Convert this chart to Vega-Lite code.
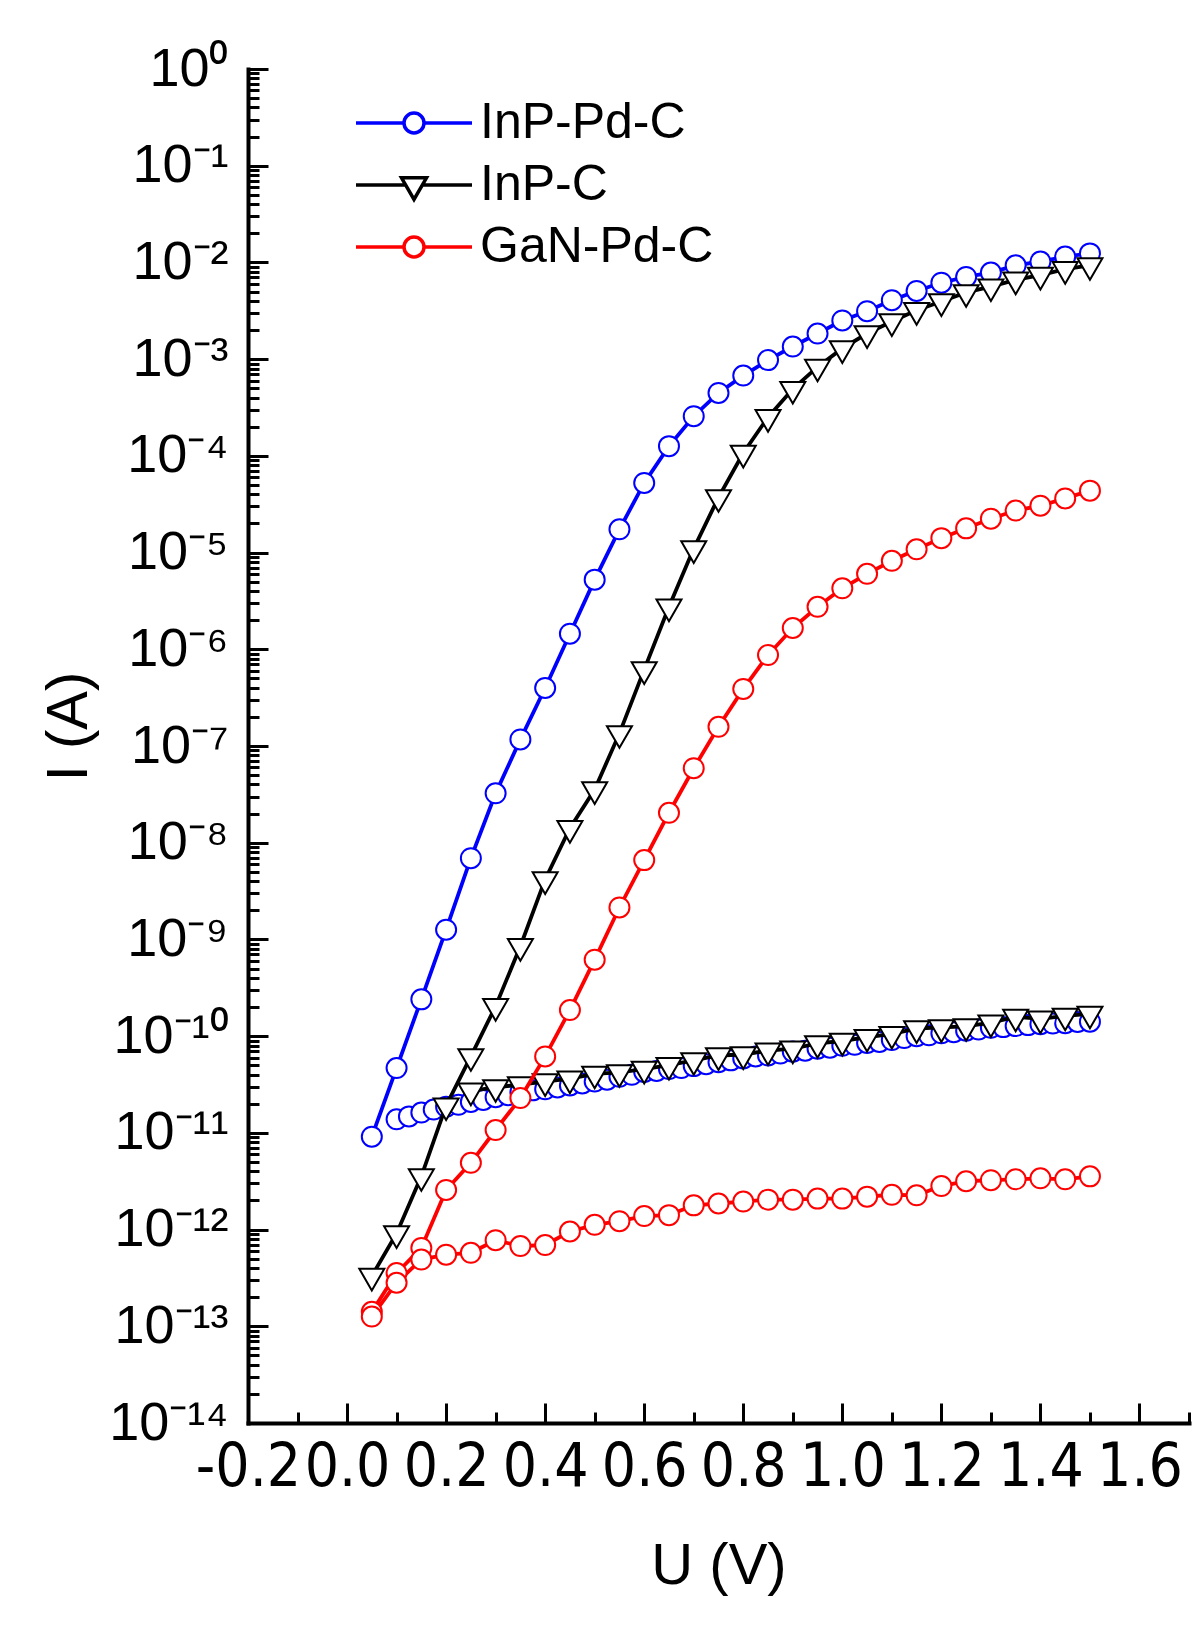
{
  "$schema": "https://vega.github.io/schema/vega-lite/v6.json",
  "width": 941,
  "height": 1354,
  "autosize": {"type": "none"},
  "padding": {"left": 248, "top": 69, "right": 11, "bottom": 203},
  "background": "white",
  "config": {"view": {"stroke": null}, "font": "Liberation Sans"},
  "data": {"values": [
    {"U":0.05,"I":9.12e-12,"sample":"InP-Pd-C","branch":"up"},
    {"U":0.10,"I":4.68e-11,"sample":"InP-Pd-C","branch":"up"},
    {"U":0.15,"I":2.40e-10,"sample":"InP-Pd-C","branch":"up"},
    {"U":0.20,"I":1.26e-9,"sample":"InP-Pd-C","branch":"up"},
    {"U":0.25,"I":6.92e-9,"sample":"InP-Pd-C","branch":"up"},
    {"U":0.30,"I":3.24e-8,"sample":"InP-Pd-C","branch":"up"},
    {"U":0.35,"I":1.17e-7,"sample":"InP-Pd-C","branch":"up"},
    {"U":0.40,"I":3.98e-7,"sample":"InP-Pd-C","branch":"up"},
    {"U":0.45,"I":1.45e-6,"sample":"InP-Pd-C","branch":"up"},
    {"U":0.50,"I":5.25e-6,"sample":"InP-Pd-C","branch":"up"},
    {"U":0.55,"I":1.74e-5,"sample":"InP-Pd-C","branch":"up"},
    {"U":0.60,"I":5.25e-5,"sample":"InP-Pd-C","branch":"up"},
    {"U":0.65,"I":1.26e-4,"sample":"InP-Pd-C","branch":"up"},
    {"U":0.70,"I":2.57e-4,"sample":"InP-Pd-C","branch":"up"},
    {"U":0.75,"I":4.47e-4,"sample":"InP-Pd-C","branch":"up"},
    {"U":0.80,"I":6.76e-4,"sample":"InP-Pd-C","branch":"up"},
    {"U":0.85,"I":9.77e-4,"sample":"InP-Pd-C","branch":"up"},
    {"U":0.90,"I":1.35e-3,"sample":"InP-Pd-C","branch":"up"},
    {"U":0.95,"I":1.84e-3,"sample":"InP-Pd-C","branch":"up"},
    {"U":1.00,"I":2.51e-3,"sample":"InP-Pd-C","branch":"up"},
    {"U":1.05,"I":3.13e-3,"sample":"InP-Pd-C","branch":"up"},
    {"U":1.10,"I":4.07e-3,"sample":"InP-Pd-C","branch":"up"},
    {"U":1.15,"I":5.07e-3,"sample":"InP-Pd-C","branch":"up"},
    {"U":1.20,"I":6.17e-3,"sample":"InP-Pd-C","branch":"up"},
    {"U":1.25,"I":7.08e-3,"sample":"InP-Pd-C","branch":"up"},
    {"U":1.30,"I":7.85e-3,"sample":"InP-Pd-C","branch":"up"},
    {"U":1.35,"I":9.33e-3,"sample":"InP-Pd-C","branch":"up"},
    {"U":1.40,"I":1.02e-2,"sample":"InP-Pd-C","branch":"up"},
    {"U":1.45,"I":1.15e-2,"sample":"InP-Pd-C","branch":"up"},
    {"U":1.50,"I":1.24e-2,"sample":"InP-Pd-C","branch":"up"},
    {"U":0.100,"I":1.38e-11,"sample":"InP-Pd-C","branch":"low"},
    {"U":0.125,"I":1.48e-11,"sample":"InP-Pd-C","branch":"low"},
    {"U":0.150,"I":1.62e-11,"sample":"InP-Pd-C","branch":"low"},
    {"U":0.175,"I":1.74e-11,"sample":"InP-Pd-C","branch":"low"},
    {"U":0.200,"I":1.86e-11,"sample":"InP-Pd-C","branch":"low"},
    {"U":0.225,"I":1.95e-11,"sample":"InP-Pd-C","branch":"low"},
    {"U":0.250,"I":2.09e-11,"sample":"InP-Pd-C","branch":"low"},
    {"U":0.275,"I":2.19e-11,"sample":"InP-Pd-C","branch":"low"},
    {"U":0.300,"I":2.34e-11,"sample":"InP-Pd-C","branch":"low"},
    {"U":0.325,"I":2.45e-11,"sample":"InP-Pd-C","branch":"low"},
    {"U":0.350,"I":2.63e-11,"sample":"InP-Pd-C","branch":"low"},
    {"U":0.375,"I":2.75e-11,"sample":"InP-Pd-C","branch":"low"},
    {"U":0.400,"I":2.82e-11,"sample":"InP-Pd-C","branch":"low"},
    {"U":0.425,"I":2.95e-11,"sample":"InP-Pd-C","branch":"low"},
    {"U":0.450,"I":3.09e-11,"sample":"InP-Pd-C","branch":"low"},
    {"U":0.475,"I":3.24e-11,"sample":"InP-Pd-C","branch":"low"},
    {"U":0.500,"I":3.39e-11,"sample":"InP-Pd-C","branch":"low"},
    {"U":0.525,"I":3.55e-11,"sample":"InP-Pd-C","branch":"low"},
    {"U":0.550,"I":3.80e-11,"sample":"InP-Pd-C","branch":"low"},
    {"U":0.575,"I":3.98e-11,"sample":"InP-Pd-C","branch":"low"},
    {"U":0.600,"I":4.27e-11,"sample":"InP-Pd-C","branch":"low"},
    {"U":0.625,"I":4.37e-11,"sample":"InP-Pd-C","branch":"low"},
    {"U":0.650,"I":4.57e-11,"sample":"InP-Pd-C","branch":"low"},
    {"U":0.675,"I":4.68e-11,"sample":"InP-Pd-C","branch":"low"},
    {"U":0.700,"I":4.90e-11,"sample":"InP-Pd-C","branch":"low"},
    {"U":0.725,"I":5.13e-11,"sample":"InP-Pd-C","branch":"low"},
    {"U":0.750,"I":5.37e-11,"sample":"InP-Pd-C","branch":"low"},
    {"U":0.775,"I":5.62e-11,"sample":"InP-Pd-C","branch":"low"},
    {"U":0.800,"I":5.89e-11,"sample":"InP-Pd-C","branch":"low"},
    {"U":0.825,"I":6.17e-11,"sample":"InP-Pd-C","branch":"low"},
    {"U":0.850,"I":6.31e-11,"sample":"InP-Pd-C","branch":"low"},
    {"U":0.875,"I":6.61e-11,"sample":"InP-Pd-C","branch":"low"},
    {"U":0.900,"I":6.92e-11,"sample":"InP-Pd-C","branch":"low"},
    {"U":0.925,"I":7.08e-11,"sample":"InP-Pd-C","branch":"low"},
    {"U":0.950,"I":7.41e-11,"sample":"InP-Pd-C","branch":"low"},
    {"U":0.975,"I":7.59e-11,"sample":"InP-Pd-C","branch":"low"},
    {"U":1.000,"I":7.94e-11,"sample":"InP-Pd-C","branch":"low"},
    {"U":1.025,"I":8.13e-11,"sample":"InP-Pd-C","branch":"low"},
    {"U":1.050,"I":8.51e-11,"sample":"InP-Pd-C","branch":"low"},
    {"U":1.075,"I":8.71e-11,"sample":"InP-Pd-C","branch":"low"},
    {"U":1.100,"I":9.12e-11,"sample":"InP-Pd-C","branch":"low"},
    {"U":1.125,"I":9.55e-11,"sample":"InP-Pd-C","branch":"low"},
    {"U":1.150,"I":1.00e-10,"sample":"InP-Pd-C","branch":"low"},
    {"U":1.175,"I":1.02e-10,"sample":"InP-Pd-C","branch":"low"},
    {"U":1.200,"I":1.07e-10,"sample":"InP-Pd-C","branch":"low"},
    {"U":1.225,"I":1.10e-10,"sample":"InP-Pd-C","branch":"low"},
    {"U":1.250,"I":1.14e-10,"sample":"InP-Pd-C","branch":"low"},
    {"U":1.275,"I":1.17e-10,"sample":"InP-Pd-C","branch":"low"},
    {"U":1.300,"I":1.22e-10,"sample":"InP-Pd-C","branch":"low"},
    {"U":1.325,"I":1.24e-10,"sample":"InP-Pd-C","branch":"low"},
    {"U":1.350,"I":1.27e-10,"sample":"InP-Pd-C","branch":"low"},
    {"U":1.375,"I":1.30e-10,"sample":"InP-Pd-C","branch":"low"},
    {"U":1.400,"I":1.33e-10,"sample":"InP-Pd-C","branch":"low"},
    {"U":1.425,"I":1.35e-10,"sample":"InP-Pd-C","branch":"low"},
    {"U":1.450,"I":1.36e-10,"sample":"InP-Pd-C","branch":"low"},
    {"U":1.475,"I":1.40e-10,"sample":"InP-Pd-C","branch":"low"},
    {"U":1.500,"I":1.41e-10,"sample":"InP-Pd-C","branch":"low"},
    {"U":0.05,"I":3.31e-13,"sample":"InP-C","branch":"up"},
    {"U":0.10,"I":9.12e-13,"sample":"InP-C","branch":"up"},
    {"U":0.15,"I":3.55e-12,"sample":"InP-C","branch":"up"},
    {"U":0.20,"I":1.91e-11,"sample":"InP-C","branch":"up"},
    {"U":0.25,"I":6.17e-11,"sample":"InP-C","branch":"up"},
    {"U":0.30,"I":2.04e-10,"sample":"InP-C","branch":"up"},
    {"U":0.35,"I":8.51e-10,"sample":"InP-C","branch":"up"},
    {"U":0.40,"I":4.17e-9,"sample":"InP-C","branch":"up"},
    {"U":0.45,"I":1.41e-8,"sample":"InP-C","branch":"up"},
    {"U":0.50,"I":3.55e-8,"sample":"InP-C","branch":"up"},
    {"U":0.55,"I":1.35e-7,"sample":"InP-C","branch":"up"},
    {"U":0.60,"I":6.17e-7,"sample":"InP-C","branch":"up"},
    {"U":0.65,"I":2.75e-6,"sample":"InP-C","branch":"up"},
    {"U":0.70,"I":1.10e-5,"sample":"InP-C","branch":"up"},
    {"U":0.75,"I":3.72e-5,"sample":"InP-C","branch":"up"},
    {"U":0.80,"I":1.07e-4,"sample":"InP-C","branch":"up"},
    {"U":0.85,"I":2.51e-4,"sample":"InP-C","branch":"up"},
    {"U":0.90,"I":4.90e-4,"sample":"InP-C","branch":"up"},
    {"U":0.95,"I":8.32e-4,"sample":"InP-C","branch":"up"},
    {"U":1.00,"I":1.29e-3,"sample":"InP-C","branch":"up"},
    {"U":1.05,"I":1.84e-3,"sample":"InP-C","branch":"up"},
    {"U":1.10,"I":2.45e-3,"sample":"InP-C","branch":"up"},
    {"U":1.15,"I":3.20e-3,"sample":"InP-C","branch":"up"},
    {"U":1.20,"I":3.94e-3,"sample":"InP-C","branch":"up"},
    {"U":1.25,"I":4.90e-3,"sample":"InP-C","branch":"up"},
    {"U":1.30,"I":5.62e-3,"sample":"InP-C","branch":"up"},
    {"U":1.35,"I":6.61e-3,"sample":"InP-C","branch":"up"},
    {"U":1.40,"I":7.41e-3,"sample":"InP-C","branch":"up"},
    {"U":1.45,"I":8.51e-3,"sample":"InP-C","branch":"up"},
    {"U":1.50,"I":9.33e-3,"sample":"InP-C","branch":"up"},
    {"U":0.25,"I":2.72e-11,"sample":"InP-C","branch":"low"},
    {"U":0.30,"I":2.95e-11,"sample":"InP-C","branch":"low"},
    {"U":0.35,"I":3.16e-11,"sample":"InP-C","branch":"low"},
    {"U":0.40,"I":3.39e-11,"sample":"InP-C","branch":"low"},
    {"U":0.45,"I":3.63e-11,"sample":"InP-C","branch":"low"},
    {"U":0.50,"I":4.07e-11,"sample":"InP-C","branch":"low"},
    {"U":0.55,"I":4.22e-11,"sample":"InP-C","branch":"low"},
    {"U":0.60,"I":4.57e-11,"sample":"InP-C","branch":"low"},
    {"U":0.65,"I":5.01e-11,"sample":"InP-C","branch":"low"},
    {"U":0.70,"I":5.62e-11,"sample":"InP-C","branch":"low"},
    {"U":0.75,"I":6.31e-11,"sample":"InP-C","branch":"low"},
    {"U":0.80,"I":6.46e-11,"sample":"InP-C","branch":"low"},
    {"U":0.85,"I":7.08e-11,"sample":"InP-C","branch":"low"},
    {"U":0.90,"I":7.41e-11,"sample":"InP-C","branch":"low"},
    {"U":0.95,"I":8.41e-11,"sample":"InP-C","branch":"low"},
    {"U":1.00,"I":8.91e-11,"sample":"InP-C","branch":"low"},
    {"U":1.05,"I":9.77e-11,"sample":"InP-C","branch":"low"},
    {"U":1.10,"I":1.05e-10,"sample":"InP-C","branch":"low"},
    {"U":1.15,"I":1.20e-10,"sample":"InP-C","branch":"low"},
    {"U":1.20,"I":1.23e-10,"sample":"InP-C","branch":"low"},
    {"U":1.25,"I":1.26e-10,"sample":"InP-C","branch":"low"},
    {"U":1.30,"I":1.38e-10,"sample":"InP-C","branch":"low"},
    {"U":1.35,"I":1.58e-10,"sample":"InP-C","branch":"low"},
    {"U":1.40,"I":1.51e-10,"sample":"InP-C","branch":"low"},
    {"U":1.45,"I":1.62e-10,"sample":"InP-C","branch":"low"},
    {"U":1.50,"I":1.70e-10,"sample":"InP-C","branch":"low"},
    {"U":0.05,"I":1.41e-13,"sample":"GaN-Pd-C","branch":"up"},
    {"U":0.10,"I":3.55e-13,"sample":"GaN-Pd-C","branch":"up"},
    {"U":0.15,"I":6.46e-13,"sample":"GaN-Pd-C","branch":"up"},
    {"U":0.20,"I":2.57e-12,"sample":"GaN-Pd-C","branch":"up"},
    {"U":0.25,"I":4.90e-12,"sample":"GaN-Pd-C","branch":"up"},
    {"U":0.30,"I":1.07e-11,"sample":"GaN-Pd-C","branch":"up"},
    {"U":0.35,"I":2.29e-11,"sample":"GaN-Pd-C","branch":"up"},
    {"U":0.40,"I":6.17e-11,"sample":"GaN-Pd-C","branch":"up"},
    {"U":0.45,"I":1.86e-10,"sample":"GaN-Pd-C","branch":"up"},
    {"U":0.50,"I":6.17e-10,"sample":"GaN-Pd-C","branch":"up"},
    {"U":0.55,"I":2.14e-9,"sample":"GaN-Pd-C","branch":"up"},
    {"U":0.60,"I":6.61e-9,"sample":"GaN-Pd-C","branch":"up"},
    {"U":0.65,"I":2.04e-8,"sample":"GaN-Pd-C","branch":"up"},
    {"U":0.70,"I":5.89e-8,"sample":"GaN-Pd-C","branch":"up"},
    {"U":0.75,"I":1.58e-7,"sample":"GaN-Pd-C","branch":"up"},
    {"U":0.80,"I":3.89e-7,"sample":"GaN-Pd-C","branch":"up"},
    {"U":0.85,"I":8.71e-7,"sample":"GaN-Pd-C","branch":"up"},
    {"U":0.90,"I":1.66e-6,"sample":"GaN-Pd-C","branch":"up"},
    {"U":0.95,"I":2.75e-6,"sample":"GaN-Pd-C","branch":"up"},
    {"U":1.00,"I":4.27e-6,"sample":"GaN-Pd-C","branch":"up"},
    {"U":1.05,"I":6.03e-6,"sample":"GaN-Pd-C","branch":"up"},
    {"U":1.10,"I":8.22e-6,"sample":"GaN-Pd-C","branch":"up"},
    {"U":1.15,"I":1.08e-5,"sample":"GaN-Pd-C","branch":"up"},
    {"U":1.20,"I":1.41e-5,"sample":"GaN-Pd-C","branch":"up"},
    {"U":1.25,"I":1.78e-5,"sample":"GaN-Pd-C","branch":"up"},
    {"U":1.30,"I":2.24e-5,"sample":"GaN-Pd-C","branch":"up"},
    {"U":1.35,"I":2.72e-5,"sample":"GaN-Pd-C","branch":"up"},
    {"U":1.40,"I":3.05e-5,"sample":"GaN-Pd-C","branch":"up"},
    {"U":1.45,"I":3.63e-5,"sample":"GaN-Pd-C","branch":"up"},
    {"U":1.50,"I":4.37e-5,"sample":"GaN-Pd-C","branch":"up"},
    {"U":0.05,"I":1.26e-13,"sample":"GaN-Pd-C","branch":"low"},
    {"U":0.10,"I":2.82e-13,"sample":"GaN-Pd-C","branch":"low"},
    {"U":0.15,"I":4.90e-13,"sample":"GaN-Pd-C","branch":"low"},
    {"U":0.20,"I":5.50e-13,"sample":"GaN-Pd-C","branch":"low"},
    {"U":0.25,"I":5.75e-13,"sample":"GaN-Pd-C","branch":"low"},
    {"U":0.30,"I":7.76e-13,"sample":"GaN-Pd-C","branch":"low"},
    {"U":0.35,"I":6.76e-13,"sample":"GaN-Pd-C","branch":"low"},
    {"U":0.40,"I":6.92e-13,"sample":"GaN-Pd-C","branch":"low"},
    {"U":0.45,"I":9.55e-13,"sample":"GaN-Pd-C","branch":"low"},
    {"U":0.50,"I":1.12e-12,"sample":"GaN-Pd-C","branch":"low"},
    {"U":0.55,"I":1.22e-12,"sample":"GaN-Pd-C","branch":"low"},
    {"U":0.60,"I":1.38e-12,"sample":"GaN-Pd-C","branch":"low"},
    {"U":0.65,"I":1.41e-12,"sample":"GaN-Pd-C","branch":"low"},
    {"U":0.70,"I":1.78e-12,"sample":"GaN-Pd-C","branch":"low"},
    {"U":0.75,"I":1.86e-12,"sample":"GaN-Pd-C","branch":"low"},
    {"U":0.80,"I":1.95e-12,"sample":"GaN-Pd-C","branch":"low"},
    {"U":0.85,"I":2.04e-12,"sample":"GaN-Pd-C","branch":"low"},
    {"U":0.90,"I":2.04e-12,"sample":"GaN-Pd-C","branch":"low"},
    {"U":0.95,"I":2.09e-12,"sample":"GaN-Pd-C","branch":"low"},
    {"U":1.00,"I":2.09e-12,"sample":"GaN-Pd-C","branch":"low"},
    {"U":1.05,"I":2.19e-12,"sample":"GaN-Pd-C","branch":"low"},
    {"U":1.10,"I":2.29e-12,"sample":"GaN-Pd-C","branch":"low"},
    {"U":1.15,"I":2.26e-12,"sample":"GaN-Pd-C","branch":"low"},
    {"U":1.20,"I":2.82e-12,"sample":"GaN-Pd-C","branch":"low"},
    {"U":1.25,"I":3.16e-12,"sample":"GaN-Pd-C","branch":"low"},
    {"U":1.30,"I":3.24e-12,"sample":"GaN-Pd-C","branch":"low"},
    {"U":1.35,"I":3.31e-12,"sample":"GaN-Pd-C","branch":"low"},
    {"U":1.40,"I":3.39e-12,"sample":"GaN-Pd-C","branch":"low"},
    {"U":1.45,"I":3.31e-12,"sample":"GaN-Pd-C","branch":"low"},
    {"U":1.50,"I":3.55e-12,"sample":"GaN-Pd-C","branch":"low"}
  ]},
  "resolve": {"axis": {"x": "independent", "y": "independent"}},
  "layer": [
    {
      "transform": [{"filter": "datum.sample === 'InP-Pd-C'"}],
      "mark": {"type": "line", "strokeWidth": 3.8},
      "encoding": {
        "x": {"field": "U", "type": "quantitative",
          "scale": {"domain": [-0.2, 1.7], "nice": false, "zero": false},
          "axis": {"orient": "bottom", "values": [-0.2, 0, 0.2, 0.4, 0.6, 0.8, 1.0, 1.2, 1.4, 1.6],
            "labelExpr": "replace(format(datum.value, '.1f'), '\u2212', '-')",
            "grid": false, "domainColor": "black", "domainWidth": 4, "domainCap": "square",
            "tickColor": "black", "tickWidth": 3, "tickSize": -20,
            "labelFont": "Liberation Sans Narrow, DejaVu Sans Condensed, Liberation Sans", "labelFontSize": 60, "labelColor": "black",
            "labelPadding": 35, "labelFlush": false, "labelOverlap": false, "labelBaseline": "top",
            "title": "U (V)", "titleFont": "Liberation Sans", "titleFontSize": 58, "titleFontWeight": "normal", "titleColor": "black", "titlePadding": 40}},
        "y": {"field": "I", "type": "quantitative",
          "scale": {"type": "log", "domain": [1e-14, 1], "nice": false},
          "axis": {"orient": "left", "values": [1e-14, 1e-13, 1e-12, 1e-11, 1e-10, 1e-9, 1e-8, 1e-7, 1e-6, 1e-5, 1e-4, 1e-3, 1e-2, 1e-1, 1],
            "labelExpr": "'10' + ['\u2070','\u207b\u00b9','\u207b\u00b2','\u207b\u00b3','\u207b\u2074','\u207b\u2075','\u207b\u2076','\u207b\u2077','\u207b\u2078','\u207b\u2079','\u207b\u00b9\u2070','\u207b\u00b9\u00b9','\u207b\u00b9\u00b2','\u207b\u00b9\u00b3','\u207b\u00b9\u2074'][-round(log(datum.value) / LN10)]",
            "grid": false, "domainColor": "black", "domainWidth": 4, "domainCap": "square",
            "tickColor": "black", "tickWidth": 3, "tickSize": -20,
            "labelFont": "Liberation Sans", "labelFontSize": 54, "labelColor": "black",
            "labelPadding": 40, "labelFlush": false, "labelOverlap": false,
            "title": "I (A)", "titleFont": "Liberation Sans", "titleFontSize": 58, "titleFontWeight": "normal", "titleColor": "black",
            "titleX": -150, "titleY": 657}},
        "detail": {"field": "branch", "type": "nominal"},
        "color": {"field": "sample", "type": "nominal",
          "scale": {"domain": ["InP-Pd-C", "InP-C", "GaN-Pd-C"], "range": ["#0000ff", "#000000", "#ff0000"]},
          "legend": {"orient": "none", "legendX": 141, "legendY": 29, "title": null,
            "labelFont": "Liberation Sans", "labelFontSize": 50, "labelColor": "black", "labelLimit": 0,
            "labelOffset": 41, "rowPadding": 12, "symbolSize": 1600, "symbolStrokeWidth": 3.5,
            "encode": {"symbols": {"update": {
              "shape": {"signal": "datum.value === 'InP-C' ? 'M-2.9,0L-0.417,0M0.417,0L2.9,0M-0.625,-0.36L0.625,-0.36L0,0.72Z' : 'M-2.9,0L-0.5,0M0.5,0L2.9,0M-0.5,0A0.5,0.5,0,1,1,0.5,0A0.5,0.5,0,1,1,-0.5,0Z'"},
              "fill": {"value": "white"}, "fillOpacity": {"value": 1}, "strokeWidth": {"value": 3.5}}}}}}
      }
    },
    {
      "transform": [{"filter": "datum.sample === 'InP-Pd-C'"}],
      "mark": {"type": "point", "shape": "circle", "size": 400, "filled": true, "fill": "white", "stroke": "#0000ff", "strokeWidth": 2, "opacity": 1},
      "encoding": {
        "x": {"field": "U", "type": "quantitative",
          "scale": {"domain": [-0.2, 1.7], "nice": false, "zero": false},
          "axis": {"orient": "bottom", "values": [-0.1, 0.1, 0.3, 0.5, 0.7, 0.9, 1.1, 1.3, 1.5, 1.7],
            "labels": false, "domain": false, "grid": false, "title": null,
            "tickColor": "black", "tickWidth": 3, "tickSize": -11}},
        "y": {"field": "I", "type": "quantitative",
          "scale": {"type": "log", "domain": [1e-14, 1], "nice": false},
          "axis": {"orient": "left", "values": [2e-14,3e-14,4e-14,5e-14,6e-14,7e-14,8e-14,9e-14,2e-13,3e-13,4e-13,5e-13,6e-13,7e-13,8e-13,9e-13,2e-12,3e-12,4e-12,5e-12,6e-12,7e-12,8e-12,9e-12,2e-11,3e-11,4e-11,5e-11,6e-11,7e-11,8e-11,9e-11,2e-10,3e-10,4e-10,5e-10,6e-10,7e-10,8e-10,9e-10,2e-9,3e-9,4e-9,5e-9,6e-9,7e-9,8e-9,9e-9,2e-8,3e-8,4e-8,5e-8,6e-8,7e-8,8e-8,9e-8,2e-7,3e-7,4e-7,5e-7,6e-7,7e-7,8e-7,9e-7,2e-6,3e-6,4e-6,5e-6,6e-6,7e-6,8e-6,9e-6,2e-5,3e-5,4e-5,5e-5,6e-5,7e-5,8e-5,9e-5,2e-4,3e-4,4e-4,5e-4,6e-4,7e-4,8e-4,9e-4,2e-3,3e-3,4e-3,5e-3,6e-3,7e-3,8e-3,9e-3,2e-2,3e-2,4e-2,5e-2,6e-2,7e-2,8e-2,9e-2,0.2,0.3,0.4,0.5,0.6,0.7,0.8,0.9],
            "labels": false, "domain": false, "grid": false, "title": null,
            "tickColor": "black", "tickWidth": 3, "tickSize": -11}}
      }
    },
    {
      "transform": [{"filter": "datum.sample === 'InP-C'"}],
      "mark": {"type": "line", "strokeWidth": 3.8, "color": "#000000"},
      "encoding": {
        "x": {"field": "U", "type": "quantitative", "scale": {"domain": [-0.2, 1.7], "nice": false, "zero": false}, "axis": null},
        "y": {"field": "I", "type": "quantitative", "scale": {"type": "log", "domain": [1e-14, 1], "nice": false}, "axis": null},
        "detail": {"field": "branch", "type": "nominal"}
      }
    },
    {
      "transform": [{"filter": "datum.sample === 'InP-C'"}],
      "mark": {"type": "point", "shape": "M-1,-0.577L1,-0.577L0,1.155Z", "size": 625, "filled": true, "fill": "white", "stroke": "#000000", "strokeWidth": 2, "opacity": 1},
      "encoding": {
        "x": {"field": "U", "type": "quantitative", "scale": {"domain": [-0.2, 1.7], "nice": false, "zero": false}, "axis": null},
        "y": {"field": "I", "type": "quantitative", "scale": {"type": "log", "domain": [1e-14, 1], "nice": false}, "axis": null}
      }
    },
    {
      "transform": [{"filter": "datum.sample === 'GaN-Pd-C'"}],
      "mark": {"type": "line", "strokeWidth": 3.8, "color": "#ff0000"},
      "encoding": {
        "x": {"field": "U", "type": "quantitative", "scale": {"domain": [-0.2, 1.7], "nice": false, "zero": false}, "axis": null},
        "y": {"field": "I", "type": "quantitative", "scale": {"type": "log", "domain": [1e-14, 1], "nice": false}, "axis": null},
        "detail": {"field": "branch", "type": "nominal"}
      }
    },
    {
      "transform": [{"filter": "datum.sample === 'GaN-Pd-C'"}],
      "mark": {"type": "point", "shape": "circle", "size": 400, "filled": true, "fill": "white", "stroke": "#ff0000", "strokeWidth": 2, "opacity": 1},
      "encoding": {
        "x": {"field": "U", "type": "quantitative", "scale": {"domain": [-0.2, 1.7], "nice": false, "zero": false}, "axis": null},
        "y": {"field": "I", "type": "quantitative", "scale": {"type": "log", "domain": [1e-14, 1], "nice": false}, "axis": null}
      }
    }
  ]
}
